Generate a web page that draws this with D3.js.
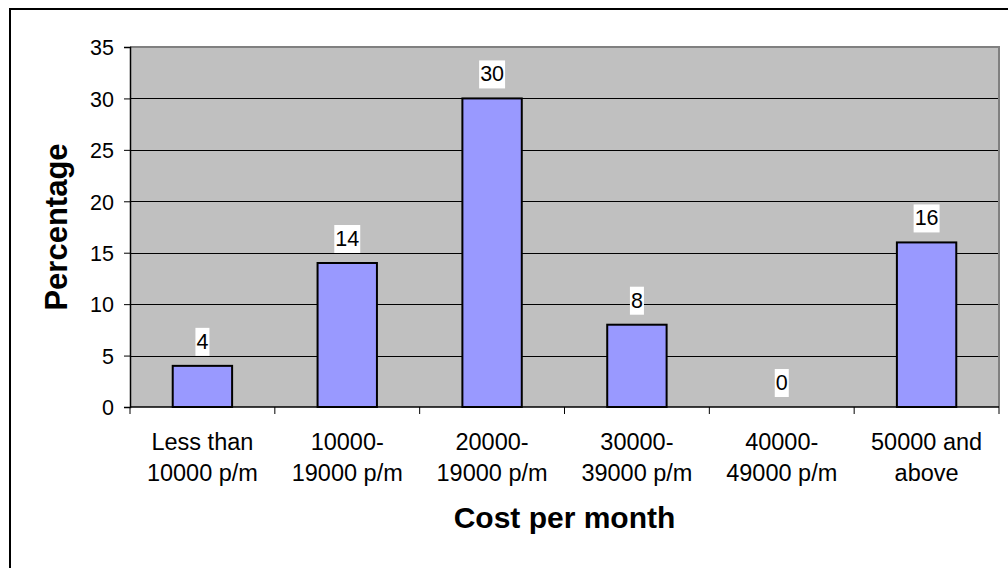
<!DOCTYPE html>
<html>
<head>
<meta charset="utf-8">
<script src="https://cdn.jsdelivr.net/npm/d3@7"></script>
<style>
  html, body { margin: 0; padding: 0; background: #fff; }
  svg { display: block; font-family: "Liberation Sans", Arial, sans-serif; }
</style>
</head>
<body>
<svg id="chart" width="1008" height="568"></svg>
<script>
// Survey results: share of respondents by monthly cost bracket
const categories = [
  ["Less than", "10000 p/m"],
  ["10000-", "19000 p/m"],
  ["20000-", "19000 p/m"],
  ["30000-", "39000 p/m"],
  ["40000-", "49000 p/m"],
  ["50000 and", "above"]
];
const percentages = [4, 14, 30, 8, 0, 16];
const yTicks = [0, 5, 10, 15, 20, 25, 30, 35];
const xTitle = "Cost per month";
const yTitle = "Percentage";

const svg = d3.select("#chart");
const plot = { left: 130, top: 47, right: 999, bottom: 407 };

// outer frame
svg.append("rect")
  .attr("x", 10).attr("y", 9)
  .attr("width", 1010).attr("height", 570)
  .attr("fill", "#fff").attr("stroke", "#000").attr("stroke-width", 2);

const x = d3.scaleBand()
  .domain(d3.range(categories.length))
  .range([plot.left, plot.right])
  .paddingInner(0.59).paddingOuter(0.295);

const xBand = d3.scaleBand()
  .domain(d3.range(categories.length))
  .range([plot.left, plot.right]);

const y = d3.scaleLinear().domain([0, 35]).range([plot.bottom, plot.top]);

// plot background
svg.append("rect")
  .attr("x", plot.left).attr("y", plot.top)
  .attr("width", plot.right - plot.left).attr("height", plot.bottom - plot.top)
  .attr("fill", "#c0c0c0");

// gridlines
svg.append("g")
  .selectAll("line")
  .data(yTicks.filter(t => t > 0 && t < 35))
  .join("line")
  .attr("x1", plot.left).attr("x2", plot.right)
  .attr("y1", d => Math.round(y(d)) + 0.5).attr("y2", d => Math.round(y(d)) + 0.5)
  .attr("stroke", "#000").attr("stroke-width", 1);

// top and right border of plot area
svg.append("path")
  .attr("d", `M${plot.left},${plot.top} H${plot.right} V${plot.bottom}`)
  .attr("fill", "none").attr("stroke", "#808080").attr("stroke-width", 2);

// bars
svg.append("g")
  .selectAll("rect")
  .data(percentages)
  .join("rect")
  .attr("x", (d, i) => x(i))
  .attr("y", d => y(d))
  .attr("width", x.bandwidth())
  .attr("height", d => y(0) - y(d))
  .attr("fill", "#9999ff")
  .attr("stroke", "#000")
  .attr("stroke-width", d => d > 0 ? 2 : 0);

// y axis
const yAxis = d3.axisLeft(y).tickValues(yTicks).tickSize(6).tickPadding(10);
const gy = svg.append("g")
  .attr("transform", `translate(${plot.left},0)`)
  .call(yAxis);
gy.select(".domain").attr("stroke", "#000").attr("stroke-width", 1.5);
gy.selectAll(".tick line").attr("stroke", "#000");
gy.selectAll(".tick text")
  .attr("font-size", 21.5).attr("fill", "#000")
  .attr("font-family", "Liberation Sans, Arial, sans-serif")
  .attr("dy", "0.36em");

// x axis with ticks at category boundaries
const gx = svg.append("g")
  .attr("transform", `translate(0,${plot.bottom})`);
gx.append("line")
  .attr("x1", plot.left).attr("x2", plot.right)
  .attr("y1", 0).attr("y2", 0)
  .attr("stroke", "#000").attr("stroke-width", 1.5);
gx.selectAll("line.tick")
  .data(d3.range(categories.length + 1))
  .join("line")
  .attr("class", "tick")
  .attr("x1", i => i < categories.length ? xBand(i) : plot.right)
  .attr("x2", i => i < categories.length ? xBand(i) : plot.right)
  .attr("y1", 0).attr("y2", 7)
  .attr("stroke", "#000");

const xl = gx.selectAll("text.cat")
  .data(categories)
  .join("text")
  .attr("class", "cat")
  .attr("text-anchor", "middle")
  .attr("font-size", 23.5)
  .attr("fill", "#000");
xl.selectAll("tspan")
  .data((d, i) => d.map(line => ({ line, i })))
  .join("tspan")
  .attr("x", d => xBand(d.i) + xBand.bandwidth() / 2)
  .attr("y", (d, k) => 43 + k * 31)
  .text(d => d.line);

// value labels on white boxes
const labels = svg.append("g")
  .selectAll("g")
  .data(percentages)
  .join("g")
  .attr("transform", (d, i) => `translate(${x(i) + x.bandwidth() / 2},${y(d) - 17})`);
labels.append("text")
  .attr("text-anchor", "middle")
  .attr("font-size", 21.5)
  .attr("fill", "#000")
  .text(d => d);
labels.insert("rect", "text")
  .each(function () {
    const t = d3.select(this.parentNode).select("text").node().getBBox();
    d3.select(this)
      .attr("x", t.x - 1).attr("y", -21)
      .attr("width", t.width + 2).attr("height", 28)
      .attr("fill", "#fff");
  });

// axis titles
svg.append("text")
  .attr("x", (plot.left + plot.right) / 2)
  .attr("y", 528)
  .attr("text-anchor", "middle")
  .attr("font-size", 30)
  .attr("font-weight", "bold")
  .text(xTitle);

svg.append("text")
  .attr("transform", `translate(67,${(plot.top + plot.bottom) / 2}) rotate(-90)`)
  .attr("text-anchor", "middle")
  .attr("font-size", 31)
  .attr("font-weight", "bold")
  .text(yTitle);
</script>
</body>
</html>
